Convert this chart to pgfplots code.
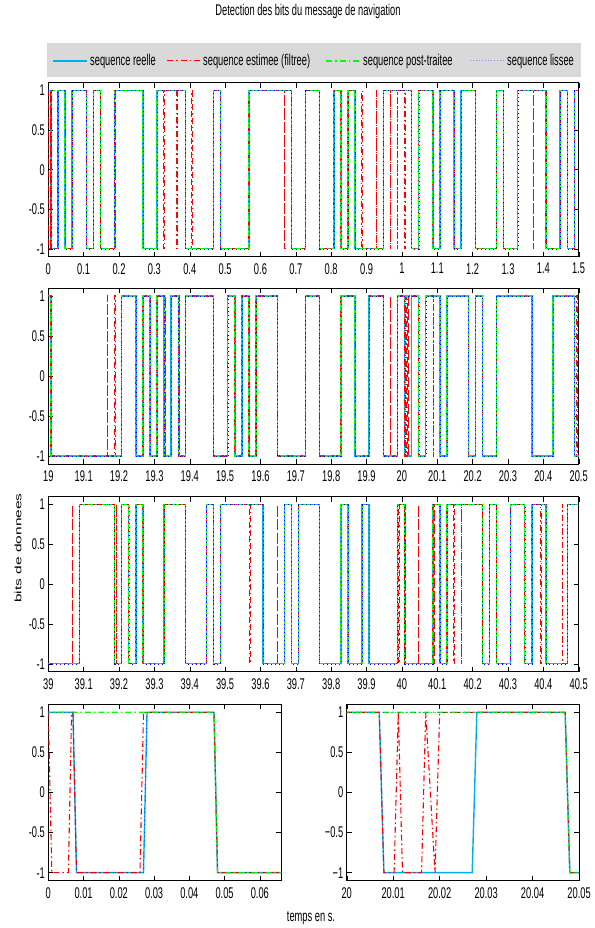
\documentclass[border=0pt]{standalone}
\usepackage{pgfplots}
\usepackage{pgfplotstable}
\pgfplotsset{compat=1.18}
\usepackage{fontspec}
\setmainfont{Liberation Sans}[FakeStretch=0.6]
\newfontfamily\ylabfont{Liberation Sans}[FakeStretch=1.667]
\newcommand{\f}{\fontsize{15.5bp}{17bp}\selectfont}

% ---------- panel 1 ----------
\pgfplotstableread{
t v
0 1
0.0075 -1
0.0275 1
0.0475 -1
0.0675 1
0.1075 -1
0.1275 1
0.1475 -1
0.1875 1
0.2675 -1
0.3075 1
0.3875 -1
0.4675 1
0.4875 -1
0.5675 1
0.6875 -1
0.7275 1
0.7675 -1
0.8075 1
0.8275 -1
0.8475 1
0.8675 -1
0.9475 1
1.0275 -1
1.0475 1
1.0875 -1
1.1075 1
1.1475 -1
1.1675 1
1.2075 -1
1.2675 1
1.2875 -1
1.3275 1
1.4075 -1
1.4475 1
1.4675 -1
1.4875 1
1.5 1
}\PunR
\pgfplotstableread{
t v
0 1
0.001 -1
0.0062 1
0.0075 -1
0.0265 1
0.0475 -1
0.0675 1
0.1075 -1
0.1275 1
0.1475 -1
0.1875 1
0.1895 -1
0.1905 1
0.2675 -1
0.3075 1
0.327 -1
0.328 1
0.364 -1
0.365 1
0.3875 -1
0.406 1
0.407 -1
0.4675 1
0.4875 -1
0.5675 1
0.668 -1
0.669 1
0.6875 -1
0.7275 1
0.7675 -1
0.8075 1
0.8275 -1
0.8475 1
0.8675 -1
0.887 1
0.888 -1
0.928 1
0.929 -1
0.9475 1
0.967 -1
0.968 1
0.987 -1
0.988 1
1.008 -1
1.009 1
1.0275 -1
1.0475 1
1.0875 -1
1.1075 1
1.1475 -1
1.1675 1
1.2075 -1
1.2675 1
1.2875 -1
1.3275 1
1.371 -1
1.372 1
1.4075 -1
1.4475 1
1.4675 -1
1.4875 1
1.5 1
}\PunE
\pgfplotstableread{
t v
0 1
0.0475 -1
0.0675 1
0.1075 -1
0.1275 1
0.1475 -1
0.1875 1
0.2675 -1
0.3075 1
0.3875 -1
0.4675 1
0.4875 -1
0.5675 1
0.6875 -1
0.7275 1
0.7675 -1
0.8075 1
0.8275 -1
0.8475 1
0.8675 -1
0.9475 1
1.0275 -1
1.0475 1
1.0875 -1
1.1075 1
1.1475 -1
1.1675 1
1.2075 -1
1.2675 1
1.2875 -1
1.3275 1
1.4075 -1
1.4475 1
1.4675 -1
1.4875 1
1.5 1
}\PunG

% ---------- panel 2 ----------
\pgfplotstableread{
t v
19 1
19.0075 -1
19.2075 1
19.2475 -1
19.2675 1
19.2875 -1
19.3075 1
19.3275 -1
19.3475 1
19.3675 -1
19.3875 1
19.4675 -1
19.5075 1
19.5275 -1
19.5475 1
19.5675 -1
19.5875 1
19.6475 -1
19.7275 1
19.7675 -1
19.8275 1
19.8675 -1
19.9075 1
19.9475 -1
19.9875 1
20.0075 -1
20.0275 1
20.0475 -1
20.0675 1
20.1075 -1
20.1275 1
20.1875 -1
20.2075 1
20.2275 -1
20.2675 1
20.3675 -1
20.4275 1
20.4875 -1
20.5 -1
}\PdeuxR
\pgfplotstableread{
t v
19 1
19.0075 -1
19.167 1
19.168 -1
19.188 1
19.189 -1
19.2075 1
19.2475 -1
19.2675 1
19.2875 -1
19.3075 1
19.3275 -1
19.331 1
19.332 -1
19.3475 1
19.3675 -1
19.370 1
19.371 -1
19.3875 1
19.4675 -1
19.5075 1
19.5275 -1
19.5475 1
19.5675 -1
19.5875 1
19.6475 -1
19.7275 1
19.7675 -1
19.8275 1
19.8675 -1
19.9075 1
19.9475 -1
19.967 1
19.968 -1
19.9875 1
20.0075 -1
20.0105 1
20.0115 -1
20.0165 1
20.0175 -1
20.0195 1
20.0475 -1
20.0675 1
20.089 -1
20.090 1
20.1075 -1
20.1275 1
20.1875 -1
20.2075 1
20.2275 -1
20.2675 1
20.3675 -1
20.4275 1
20.4875 -1
20.495 1
20.496 -1
20.5 -1
}\PdeuxE
\pgfplotstableread{
t v
19 1
19.0075 -1
19.2075 1
19.2475 -1
19.2675 1
19.2875 -1
19.3075 1
19.3275 -1
19.3475 1
19.3675 -1
19.3875 1
19.4675 -1
19.5075 1
19.5275 -1
19.5475 1
19.5675 -1
19.5875 1
19.6475 -1
19.7275 1
19.7675 -1
19.8275 1
19.8675 -1
19.9075 1
19.9475 -1
19.9875 1
20.0475 -1
20.0675 1
20.1075 -1
20.1275 1
20.1875 -1
20.2075 1
20.2275 -1
20.2675 1
20.3675 -1
20.4275 1
20.4875 -1
20.5 -1
}\PdeuxG

% ---------- panel 3 ----------
\pgfplotstableread{
t v
39 -1
39.0875 1
39.1875 -1
39.2075 1
39.2275 -1
39.2475 1
39.2675 -1
39.3275 1
39.3875 -1
39.4475 1
39.4675 -1
39.4875 1
39.6075 -1
39.6675 1
39.6875 -1
39.7075 1
39.7675 -1
39.8275 1
39.8475 -1
39.8875 1
39.9075 -1
39.9875 1
40.0075 -1
40.0875 1
40.1075 -1
40.1275 1
40.2275 -1
40.2475 1
40.2675 -1
40.3075 1
40.3475 -1
40.3675 1
40.4075 -1
40.4675 1
40.5 1
}\PtroisR
\pgfplotstableread{
t v
39 -1
39.068 1
39.069 -1
39.0875 1
39.1875 -1
39.192 1
39.193 -1
39.2075 1
39.2275 -1
39.2475 1
39.2675 -1
39.3275 1
39.3875 -1
39.4475 1
39.4675 -1
39.4875 1
39.570 -1
39.571 1
39.6075 -1
39.648 1
39.649 -1
39.6675 1
39.6875 -1
39.7075 1
39.7675 -1
39.8275 1
39.8475 -1
39.8875 1
39.9075 -1
39.9875 1
39.991 -1
39.992 1
40.0075 -1
40.0095 1
40.0105 -1
40.047 1
40.048 -1
40.0875 1
40.091 -1
40.092 1
40.1075 -1
40.1275 1
40.147 -1
40.148 1
40.168 -1
40.169 1
40.2275 -1
40.2475 1
40.2675 -1
40.3075 1
40.3475 -1
40.3675 1
40.393 -1
40.394 1
40.4075 -1
40.454 1
40.455 -1
40.4675 1
40.5 1
}\PtroisE

% ---------- panel 4 ----------
\pgfplotstableread{
t v
0 1
0.007 1
0.008 -1
0.027 -1
0.028 1
0.047 1
0.048 -1
0.066 -1
}\PquatreR
\pgfplotstableread{
t v
0 1
0.001 -1
0.0057 -1
0.0066 1
0.007 1
0.008 -1
0.026 -1
0.027 1
0.047 1
0.048 -1
0.066 -1
}\PquatreE
\pgfplotstableread{
t v
0 1
0.047 1
0.048 -1
0.066 -1
}\PquatreG

% ---------- panel 5 ----------
\pgfplotstableread{
t v
20 1
20.007 1
20.008 -1
20.027 -1
20.028 1
20.047 1
20.048 -1
20.05 -1
}\PcinqR
\pgfplotstableread{
t v
20 1
20.007 1
20.008 -1
20.0102 -1
20.0111 1
20.012 -1
20.0161 -1
20.017 1
20.019 -1
20.020 1
20.047 1
20.048 -1
20.05 -1
}\PcinqE
\pgfplotstableread{
t v
20 1
20.047 1
20.048 -1
20.05 -1
}\PcinqG

\tikzset{
  reel/.style={cyan, line width=1.4bp, solid},
  esti/.style={red, line width=1.1bp, dash pattern=on 6bp off 3bp on 1.5bp off 3bp},
  post/.style={green, line width=1.2bp, dash pattern=on 6bp off 3bp on 1.5bp off 3bp, dash phase=4bp},
  liss/.style={blue, line width=0.4bp, dash pattern=on 0.8bp off 3.2bp},
}
\pgfplotsset{
  panel/.style={
    scale only axis,
    ymin=-1.1, ymax=1.1,
    ytick={-1,-0.5,0,0.5,1},
    yticklabels={-1,-0.5,0,0.5,1},
    scaled x ticks=false, scaled y ticks=false,
    tick align=inside,
    major tick length=5bp,
    axis line style={line width=0.9bp},
    tick style={line width=0.4bp, black},
    ticklabel style={font=\f},
    xticklabel style={yshift=-3bp},
    clip=true,
  },
}

\begin{document}
\begin{tikzpicture}
\path (0,0) rectangle (591bp,928bp);

% ===== legend (drawn beside the axes) =====
\fill[gray!30] (47bp,851bp) rectangle (581bp,885bp);
\draw[cyan, line width=1.2bp] (53bp,867bp) -- (87bp,867bp);
\node[anchor=base west, font=\f, inner sep=0pt] at (90bp,862bp) {sequence reelle};
\draw[red, line width=1bp, dash pattern=on 6bp off 3bp on 1.5bp off 3bp] (167bp,867bp) -- (201bp,867bp);
\node[anchor=base west, font=\f, inner sep=0pt] at (203bp,862bp) {sequence estimee (filtree)};
\draw[green, line width=1.1bp, dash pattern=on 6bp off 3bp on 1.5bp off 3bp] (326bp,867bp) -- (360bp,867bp);
\node[anchor=base west, font=\f, inner sep=0pt] at (363bp,862bp) {sequence post-traitee};
\draw[blue!45!white, line width=1bp, dash pattern=on 1bp off 2bp] (470bp,867bp) -- (504bp,867bp);
\node[anchor=base west, font=\f, inner sep=0pt] at (507bp,862bp) {sequence lissee};

% ===== panel 1 =====
\begin{axis}[panel, at={(48.3bp,671.3bp)}, anchor=south west,
  width=530.4bp, height=174bp,
  xmin=0, xmax=1.5,
  xtick={0,0.1,0.2,0.3,0.4,0.5,0.6,0.7,0.8,0.9,1,1.1,1.2,1.3,1.4,1.5},
  xticklabels={0,0.1,0.2,0.3,0.4,0.5,0.6,0.7,0.8,0.9,1,1.1,1.2,1.3,1.4,1.5},
  ]
\addplot[reel, const plot] table[x=t,y=v]{\PunR};
\addplot[esti, const plot] table[x=t,y=v]{\PunE};
\addplot[post, const plot] table[x=t,y=v]{\PunG};
\addplot[liss, const plot] table[x=t,y=v]{\PunR};
\end{axis}

% ===== panel 2 =====
\begin{axis}[panel, at={(48.3bp,464bp)}, anchor=south west,
  width=530.4bp, height=176bp,
  xmin=19, xmax=20.5,
  xtick={19,19.1,19.2,19.3,19.4,19.5,19.6,19.7,19.8,19.9,20,20.1,20.2,20.3,20.4,20.5},
  xticklabels={19,19.1,19.2,19.3,19.4,19.5,19.6,19.7,19.8,19.9,20,20.1,20.2,20.3,20.4,20.5},
  ]
\addplot[reel, const plot] table[x=t,y=v]{\PdeuxR};
\addplot[esti, const plot] table[x=t,y=v]{\PdeuxE};
\addplot[post, const plot] table[x=t,y=v]{\PdeuxG};
\addplot[liss, const plot] table[x=t,y=v]{\PdeuxG};
\end{axis}

% ===== panel 3 =====
\begin{axis}[panel, at={(48.3bp,256.3bp)}, anchor=south west,
  width=530.4bp, height=175bp,
  xmin=39, xmax=40.5,
  xtick={39,39.1,39.2,39.3,39.4,39.5,39.6,39.7,39.8,39.9,40,40.1,40.2,40.3,40.4,40.5},
  xticklabels={39,39.1,39.2,39.3,39.4,39.5,39.6,39.7,39.8,39.9,40,40.1,40.2,40.3,40.4,40.5},
  ]
\addplot[reel, const plot] table[x=t,y=v]{\PtroisR};
\addplot[esti, const plot] table[x=t,y=v]{\PtroisE};
\addplot[post, const plot] table[x=t,y=v]{\PtroisR};
\addplot[liss, const plot] table[x=t,y=v]{\PtroisR};
\end{axis}

% ===== panel 4 =====
\begin{axis}[panel, at={(48.3bp,47.3bp)}, anchor=south west,
  width=232.7bp, height=176.4bp,
  xmin=0, xmax=0.066,
  xtick={0,0.01,0.02,0.03,0.04,0.05,0.06},
  xticklabels={0,0.01,0.02,0.03,0.04,0.05,0.06},
  ]
\addplot[reel] table[x=t,y=v]{\PquatreR};
\addplot[esti] table[x=t,y=v]{\PquatreE};
\addplot[post] table[x=t,y=v]{\PquatreG};
\addplot[liss] table[x=t,y=v]{\PquatreR};
\end{axis}

% ===== panel 5 =====
\begin{axis}[panel, at={(346.7bp,47.3bp)}, anchor=south west,
  width=232.4bp, height=176.4bp,
  xmin=20, xmax=20.05,
  xtick={20,20.01,20.02,20.03,20.04,20.05},
  xticklabels={20,20.01,20.02,20.03,20.04,20.05},
  yticklabels={−1,−0.5,0,0.5,1},
  ]
\addplot[reel] table[x=t,y=v]{\PcinqR};
\addplot[esti] table[x=t,y=v]{\PcinqE};
\addplot[post] table[x=t,y=v]{\PcinqG};
\addplot[liss] table[x=t,y=v]{\PcinqG};
\end{axis}

\node[font=\f] at (308bp,916.3bp) {Detection des bits du message de navigation};
\node[font=\f] at (311bp,10bp) {temps en s.};
\node[rotate=90] at (18bp,380bp) {\ylabfont\fontsize{9.3bp}{11bp}\selectfont bits de donnees};
\end{tikzpicture}
\end{document}
